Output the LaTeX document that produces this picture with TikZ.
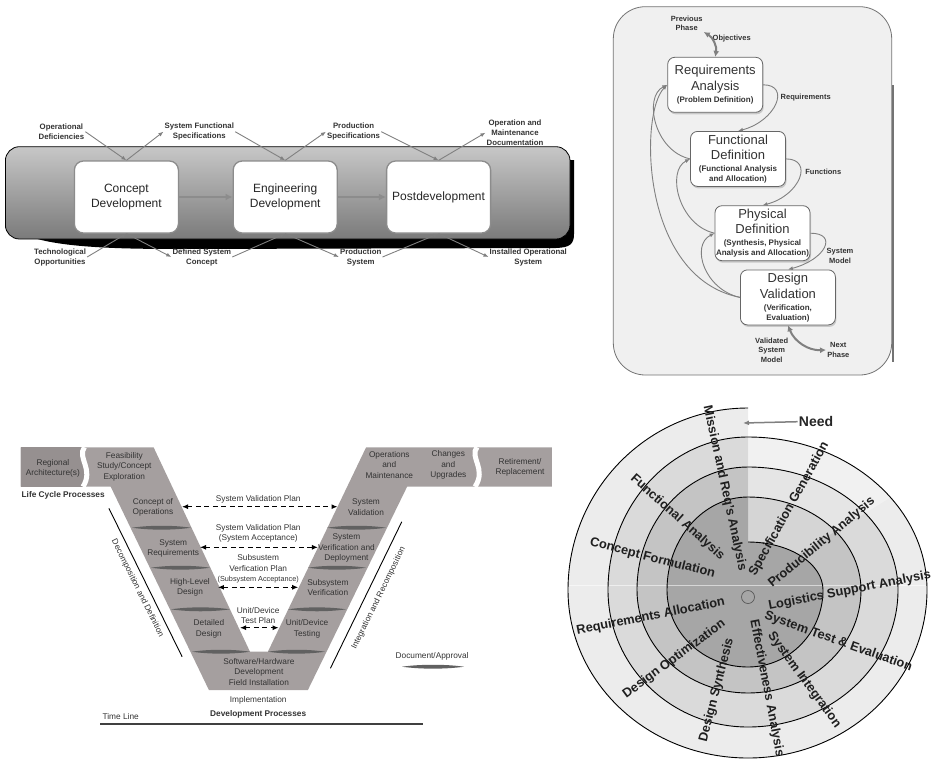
\documentclass[tikz,border=0pt]{standalone}
\usepackage{fontspec}
\setmainfont{Liberation Sans}
\usetikzlibrary{calc,arrows.meta,shadows}

\definecolor{vgray}{RGB}{165,159,159}
\definecolor{vdark}{RGB}{150,144,144}
\definecolor{panelgray}{RGB}{240,240,240}
\definecolor{bandone}{RGB}{236,236,236}
\definecolor{bandtwo}{RGB}{218,218,218}
\definecolor{bandthree}{RGB}{196,196,196}
\definecolor{bandcore}{RGB}{166,166,166}

\newcommand{\phasesub}{\fontsize{8}{9.6}\selectfont\bfseries}

% one turn of the spiral: top, right, bottom, left, top again (radii)
\tikzset{
  spiralturn/.style n args={5}{insert path={
    .. controls ({748+0.5523*#2},{590-#1}) and ({748+#2},{590-0.5523*#1}) .. ({748+#2},590)
    .. controls ({748+#2},{590+0.5523*#3}) and ({748+0.5523*#2},{590+#3}) .. (748,{590+#3})
    .. controls ({748-0.5523*#4},{590+#3}) and ({748-#4},{590+0.5523*#3}) .. ({748-#4},590)
    .. controls ({748-#4},{590-0.5523*#5}) and ({748-0.5523*#4},{590-#5}) .. (748,{590-#5})}},
  lens/.style={fill=black!62}
}

\begin{document}
\begin{tikzpicture}[x=1pt,y=-1pt,
  stagebox/.style={draw=black!45,line width=1.3pt,fill=white,rounded corners=9pt,minimum width=104pt,minimum height=72pt,align=center,font=\fontsize{12}{15}\selectfont,text=black!85},
  stagearrow/.style={draw=black!45,line width=2pt,-{Latex[length=7pt,width=7pt]}},
  iolabel/.style={font=\fontsize{7.8}{10}\selectfont\bfseries,align=center,text=black!80,inner sep=1pt},
  iolink/.style={draw=black!50,line width=0.9pt,-{Latex[length=5pt,width=4pt]}},
  phasebox/.style={draw=black!60,line width=0.8pt,fill=white,rounded corners=7pt,minimum width=95pt,minimum height=55pt,align=center,inner sep=1pt,font=\fontsize{13}{15.5}\selectfont,text=black!80,drop shadow={shadow xshift=1pt,shadow yshift=-2pt,opacity=0.35}},
  phaselabel/.style={font=\fontsize{7.5}{9.5}\selectfont\bfseries,align=center,text=black!80,inner sep=1pt},
  flowlink/.style={draw=black!50,line width=0.9pt,-{Latex[length=5pt,width=4pt]}},
  phaselink/.style={draw=black!50,line width=2pt,{Latex[length=6pt,width=6pt]}-{Latex[length=6pt,width=6pt]}},
  vtext/.style={font=\fontsize{8.3}{10.5}\selectfont,align=center,text=black!80,inner sep=1pt},
  planarrow/.style={line width=1.1pt,dash pattern=on 5pt off 3.5pt,{Latex[length=6pt,width=5pt]}-{Latex[length=6pt,width=5pt]}},
  ringlabel/.style={font=\fontsize{12.8}{14}\selectfont\bfseries,text=black!88,inner sep=0pt}
]
\useasboundingbox (0,0) rectangle (939,761);

%%% LIFE CYCLE PHASES (top left) %%%
\fill[black] (20,232) .. controls (45,247) and (110,249) .. (180,249) -- (556,248)
  .. controls (570,247.5) and (574,244) .. (574,234) -- (574,160) -- (20,160) -- cycle;
\shadedraw[top color=black!22,middle color=black!4,bottom color=black!52,draw=black,line width=0.8pt,rounded corners=14pt]
  (5.4,146.7) rectangle (570,239);

\node[stagebox] (cdev) at (126.4,197) {Concept\\Development};
\node[stagebox] (edev) at (285.2,197) {Engineering\\Development};
\node[stagebox] (pdev) at (438.6,197) {Postdevelopment};
\draw[stagearrow] (cdev) -- (edev);
\draw[stagearrow] (edev) -- (pdev);

\node[iolabel] (opdef) at (61.4,131.7) {Operational\\Deficiencies};
\node[iolabel] (sfs) at (199.3,131.7) {System Functional\\Specifications};
\node[iolabel] (ps) at (353.6,131.7) {Production\\Specifications};
\node[iolabel,font=\fontsize{7.8}{9.8}\selectfont\bfseries] (omd) at (515,132.7) {Operation and\\Maintenance\\Documentation};
\node[iolabel] (techop) at (60,257) {Technological\\Opportunities};
\node[iolabel] (dsc) at (201.8,257) {Defined System\\Concept};
\node[iolabel] (psys) at (360.7,257) {Production\\System};
\node[iolabel] (ios) at (528.3,257) {Installed Operational\\System};

\draw[iolink] (opdef.east) -- (cdev.north);
\draw[iolink] (cdev.north) -- (sfs.west);
\draw[iolink] (sfs.east) -- (edev.north);
\draw[iolink] (edev.north) -- (ps.west);
\draw[iolink] (ps.east) -- (pdev.north);
\draw[iolink] (pdev.north) -- (omd.west);
\draw[iolink] (techop.east) -- (cdev.south);
\draw[iolink] (cdev.south) -- (dsc.west);
\draw[iolink] (dsc.east) -- (edev.south);
\draw[iolink] (edev.south) -- (psys.west);
\draw[iolink] (psys.east) -- (pdev.south);
\draw[iolink] (pdev.south) -- (ios.west);

%%% SYSTEMS ENGINEERING METHOD (top right) %%%
\filldraw[fill=panelgray,draw=black!55,line width=0.8pt,rounded corners=32pt] (613.3,6.7) rectangle (891.7,375);
\draw[black!55,line width=2.5pt] (893,85) -- (893,362);

\node[phasebox] (ra) at (715.2,84.8) {Requirements\\Analysis\\[-3.5pt]\phasesub (Problem Definition)};
\node[phasebox] (fd) at (738,158.9) {Functional\\Definition\\[-3.5pt]\phasesub (Functional Analysis\\[-5.5pt]\phasesub and Allocation)};
\node[phasebox] (pd) at (762.5,233.2) {Physical\\Definition\\[-3.5pt]\phasesub (Synthesis, Physical\\[-5.5pt]\phasesub Analysis and Allocation)};
\node[phasebox] (dv) at (787.9,297.4) {Design\\Validation\\[-3.5pt]\phasesub (Verification,\\[-5.5pt]\phasesub Evaluation)};

\node[phaselabel] (prevph) at (686.7,23.3) {Previous\\Phase};
\node[phaselabel] (objs) at (731.7,38.3) {Objectives};
\node[phaselabel] (reqs) at (805.7,97.3) {Requirements};
\node[phaselabel] (funcs) at (823.3,172.3) {Functions};
\node[phaselabel] (sysmod) at (840,256) {System\\Model};
\node[phaselabel] (valmod) at (771.7,350) {Validated\\System\\Model};
\node[phaselabel] (nextph) at (838.3,350) {Next\\Phase};

% forward steps
\draw[flowlink] (ra.east) .. controls +(28,0) and +(38,-10) .. (fd.north);
\draw[flowlink] (fd.east) .. controls +(28,0) and +(38,-10) .. (pd.north);
\draw[flowlink] (pd.east) .. controls +(28,0) and +(38,-10) .. (dv.north);
% feedback loops
\draw[flowlink] (fd.west) .. controls +(-36,-8) and +(-24,12) .. (ra.west);
\draw[flowlink] (pd.west) .. controls +(-36,-8) and +(-24,12) .. (fd.west);
\draw[flowlink] (dv.west) .. controls +(-36,-8) and +(-24,12) .. (pd.west);
\draw[flowlink] (dv.west) .. controls +(-100,-20) and +(-28,28) .. (ra.west);
% in and out
\draw[phaselink] (prevph.south east) to[bend left=35] (ra.north);
\draw[phaselink] (dv.south) to[bend right=35] (nextph.west);

%%% V DIAGRAM (bottom left) %%%
\fill[vgray] (20.7,447.3) -- (153.6,447.3) -- (250,651.7) -- (267.9,651.7) -- (366.1,447.3)
  -- (551.8,447.3) -- (551.8,486.7) -- (407.1,486.7) -- (307.9,690) -- (208.9,690)
  -- (110.7,486.7) -- (20.7,486.7) -- cycle;
\fill[vdark] (20.7,447.3) rectangle (84,486.7);
\draw[white,line width=5pt] (84.3,447.3) .. controls (77,458) and (94,469) .. (83,486.7);
\draw[white,line width=5pt] (477,447.3) .. controls (469,457) and (487,469) .. (475,486.7);

% document / approval marks
\foreach \xa/\xb/\yy in {132/191/527.7,151/210/567.7,171/230/609.3,192/250/651.7,
                         327/386/527.7,308/366/567.7,288/346/609.3,268/325/651.7,402/464/666.7}{
\fill[lens] (\xa,\yy) .. controls ({\xa+0.3*(\xb-\xa)},{\yy-2.6}) and ({\xb-0.3*(\xb-\xa)},{\yy-2.6}) .. (\xb,\yy)
  .. controls ({\xb-0.3*(\xb-\xa)},{\yy+2.6}) and ({\xa+0.3*(\xb-\xa)},{\yy+2.6}) .. cycle;
}

\node[vtext] (regarch) at (52.9,468.3) {Regional\\Architecture(s)};
\node[vtext] (feas) at (124.3,466.7) {Feasibility\\Study/Concept\\Exploration};
\node[vtext] (opsmaint) at (389.3,465) {Operations\\and\\Maintenance};
\node[vtext] (changes) at (448.3,465) {Changes\\and\\Upgrades};
\node[vtext] (retire) at (520,467.3) {Retirement/\\Replacement};
\node[vtext,font=\fontsize{8.3}{10}\selectfont\bfseries] (lcp) at (63.2,495) {Life Cycle Processes};

\node[vtext] (conops) at (152.9,507.3) {Concept of\\Operations};
\node[vtext] (sysreq) at (173.2,548.3) {System\\Requirements};
\node[vtext] (hld) at (190,587.3) {High-Level\\Design};
\node[vtext] (dd) at (208.9,629) {Detailed\\Design};
\node[vtext] (swhw) at (258.9,671.7) {Software/Hardware\\Development\\Field Installation};
\node[vtext] (sysval) at (366,507.3) {System\\Validation};
\node[vtext] (sysver) at (346.4,548.3) {System\\Verification and\\Deployment};
\node[vtext] (subver) at (327.9,587.3) {Subsystem\\Verification};
\node[vtext] (unittest) at (307.1,629) {Unit/Device\\Testing};

\foreach \n/\xa/\xb/\yy in {1/182/337.5/506.7,2/200/317.9/547.3,3/217.9/298.2/587.3,4/240/278.6/627.7}{
\coordinate (plan\n L) at (\xa,\yy);
\coordinate (plan\n R) at (\xb,\yy);
\draw[planarrow] (plan\n L) -- (plan\n R);
}
\node[vtext] (svp) at (258.2,499) {System Validation Plan};
\node[vtext] (svpa) at (258.2,533.3) {System Validation Plan\\(System Acceptance)};
\node[vtext] (ssvp) at (258.2,569) {Subsustem\\Verfication Plan\\{\fontsize{7.3}{9}\selectfont(Subsystem Acceptance)}};
\node[vtext] (udtp) at (258.2,615.3) {Unit/Device\\Test Plan};

\draw[line width=0.9pt] (108.9,508.3) -- (182.1,656.7);
\draw[line width=0.9pt] (401.8,521.7) -- (330.4,668.3);
\node[vtext,rotate=-63.7] (decomp) at (137.5,588.3) {Decomposition and Definition};
\node[vtext,rotate=64] (integ) at (378.6,598.3) {Integration and Recomposition};

\node[vtext] (docapp) at (432.1,656.7) {Document/Approval};
\node[vtext] (impl) at (258.2,700) {Implementation};
\node[vtext,font=\fontsize{8.3}{10}\selectfont\bfseries] (devproc) at (258.2,714.3) {Development Processes};
\node[vtext] (timeline) at (120.7,716.7) {Time Line};
\draw[black!75,line width=1.2pt] (100,724) -- (422.5,724);

%%% SPIRAL (bottom right) %%%
\fill[bandone] (748,437) [spiralturn={153}{179}{168}{180}{182}] -- cycle;
\fill[bandtwo] (748,467) [spiralturn={123}{150}{137}{140}{153}] -- cycle;
\fill[bandthree] (748,497) [spiralturn={93}{113}{103}{111}{123}] -- cycle;
\fill[white,opacity=0.3] (748,585) -- (748,400) -- (935,400) -- (935,470) -- cycle;
\fill[bandcore] (748,542) [spiralturn={48}{75}{77}{81}{93}] -- cycle;
\draw[white,opacity=0.55,line width=0.8pt] (568,585) -- (928,585);
\draw[line width=0.9pt] (748,542) [spiralturn={48}{75}{77}{81}{93}] [spiralturn={93}{113}{103}{111}{123}]
  [spiralturn={123}{150}{137}{140}{153}] [spiralturn={153}{179}{168}{180}{182}];
\draw[black!65,line width=0.7pt] (748,597) circle [radius=6.5];

\node[ringlabel,rotate=-77.8] (mission) at (724.7,488.3) {Mission and Req's Analysis};
\node[ringlabel,rotate=60.9] (specgen) at (789.2,509.2) {Specification Generation};
\node[ringlabel,rotate=39.6] (producib) at (821.7,542.5) {Producibility Analysis};
\node[ringlabel,rotate=10.8] (logsup) at (849.7,590.8) {Logistics Support Analysis};
\node[ringlabel,rotate=-19.6] (systest) at (838.3,641.7) {System Test \& Evaluation};
\node[ringlabel,rotate=-53.8] (sysint) at (804.2,680) {System Integration};
\node[ringlabel,rotate=-79.2] (effan) at (766.7,688.3) {Effectiveness Analysis};
\node[ringlabel,rotate=75.5] (dsynth) at (716.7,690) {Design Synthesis};
\node[ringlabel,rotate=36.4] (dopt) at (674.2,659.2) {Design Optimization};
\node[ringlabel,rotate=11.2] (reqalloc) at (650.8,616.7) {Requirements Allocation};
\node[ringlabel,rotate=-14.5] (concform) at (652.5,558.3) {Concept Formulation};
\node[ringlabel,rotate=-41.7] (funcan) at (677.5,517.5) {Functional Analysis};

\node[font=\fontsize{14}{16}\selectfont\bfseries,text=black!85,inner sep=1pt] (need) at (816,421.7) {Need};
\coordinate (needtip) at (743,423);
\draw[draw=black!50,line width=1.5pt,-{Latex[length=6pt,width=5pt]}] (need.west) -- (needtip);

\end{tikzpicture}
\end{document}
